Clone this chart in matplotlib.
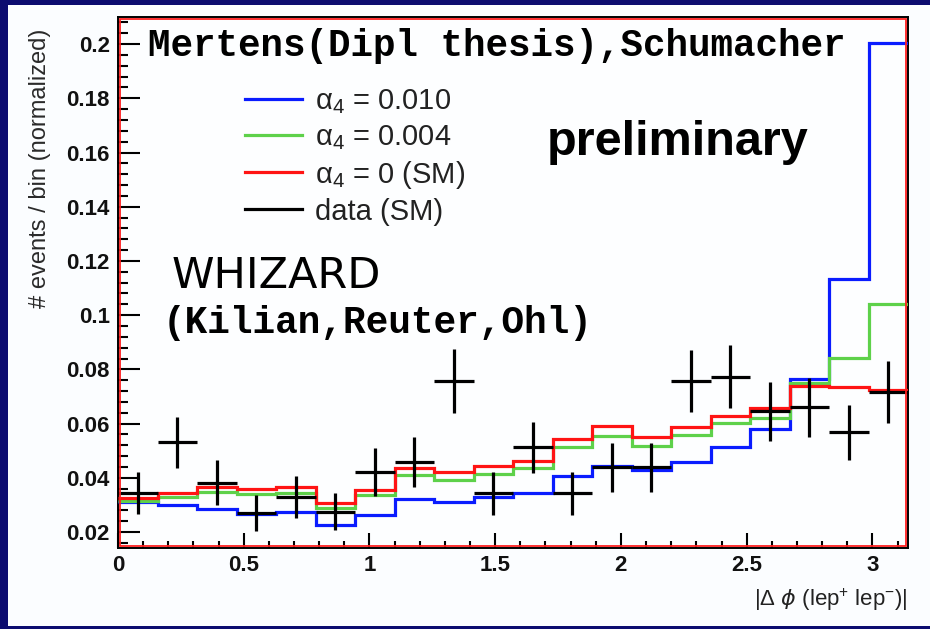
import numpy as np
import matplotlib
matplotlib.use("Agg")
import matplotlib.pyplot as plt
from matplotlib.lines import Line2D
from matplotlib.patches import Rectangle
from matplotlib.ticker import MultipleLocator, FormatStrFormatter

plt.rcParams['font.family'] = ['Liberation Sans', 'DejaVu Sans']
plt.rcParams['mathtext.fontset'] = 'custom'
plt.rcParams['mathtext.rm'] = 'Liberation Sans'

# 20 bins in |delta phi| from 0 to pi
n_bins = 20
edges = np.linspace(0, np.pi, n_bins + 1)
centers = 0.5 * (edges[:-1] + edges[1:])

# normalized distributions for the anomalous coupling alpha_4
alpha4_0010 = [0.031, 0.030, 0.0284, 0.0266, 0.0274, 0.0226, 0.0263, 0.0322, 0.0311, 0.0330,
               0.0343, 0.0407, 0.0443, 0.0430, 0.0459, 0.0512, 0.0581, 0.0763, 0.1133, 0.2003]
alpha4_0004 = [0.0314, 0.0330, 0.0349, 0.0340, 0.0343, 0.0288, 0.0337, 0.0409, 0.0392, 0.0413,
               0.0435, 0.0512, 0.0554, 0.0519, 0.0558, 0.0601, 0.0619, 0.0748, 0.0843, 0.1040]
alpha4_sm = [0.0325, 0.0345, 0.0367, 0.0357, 0.0367, 0.0308, 0.0355, 0.0436, 0.0420, 0.0443,
             0.0462, 0.0543, 0.0591, 0.0552, 0.0589, 0.0628, 0.0659, 0.0739, 0.0736, 0.0724]

# pseudo-data (SM) with statistical errors
data_sm = [0.0343, 0.0531, 0.0382, 0.0271, 0.0330, 0.0275, 0.0420, 0.0457, 0.0757, 0.0343,
           0.0512, 0.0343, 0.0439, 0.0439, 0.0757, 0.0773, 0.0646, 0.0660, 0.0568, 0.0717]
data_err = [0.0077, 0.0095, 0.0082, 0.0066, 0.0077, 0.0068, 0.0089, 0.0092, 0.0119, 0.0080,
            0.0095, 0.0080, 0.0090, 0.0091, 0.0116, 0.0117, 0.0109, 0.0110, 0.0101, 0.0114]

legend_labels = ['α$_\\mathregular{4}$ = 0.010', 'α$_\\mathregular{4}$ = 0.004',
                 'α$_\\mathregular{4}$ = 0 (SM)', 'data (SM)']

W, H = 930, 629
fig = plt.figure(figsize=(W / 100, H / 100), dpi=100, facecolor='#fbfdff')

# navy slide border
navy = '#0c0c70'
for rect in [(0, 0, 8 / W, 1), (0, 1 - 5 / H, 1, 5 / H), (0, 0, 1, 3 / H)]:
    fig.patches.append(Rectangle(rect[:2], rect[2], rect[3], transform=fig.transFigure,
                                 facecolor=navy, edgecolor='none', zorder=0))

ax = fig.add_axes([118 / W, 1 - 548 / H, 790 / W, 531 / H])
ax.set_facecolor('#fdfeff')
ax.set_xlim(0, np.pi)
ax.set_ylim(0.0141, 0.21)

lw = 2.3
c_blue, c_green, c_red = '#0a1cff', '#5ed14a', '#ff1414'
ax.stairs(alpha4_0010, edges, baseline=None, color=c_blue, lw=lw, zorder=3)
ax.stairs(alpha4_0004, edges, baseline=None, color=c_green, lw=lw, zorder=4)
ax.stairs(alpha4_sm, edges, baseline=None, color=c_red, lw=lw, zorder=5)
ax.errorbar(centers, data_sm, yerr=data_err, xerr=0.5 * np.diff(edges), fmt='none',
            ecolor='black', elinewidth=2.3, capsize=0, zorder=6)

handles = [Line2D([], [], color=c, lw=lw) for c in (c_blue, c_green, c_red, 'black')]
leg = ax.legend(handles, legend_labels, loc='upper left', bbox_to_anchor=(127 / 790, 1 - 70 / 531),
                frameon=False, fontsize=21, handlelength=1.95, handletextpad=0.45,
                labelspacing=0.24, borderpad=0, borderaxespad=0)
for t in leg.get_texts():
    t.set_color('#222222')

# axis styling
ax.xaxis.set_major_locator(MultipleLocator(0.5))
ax.xaxis.set_minor_locator(MultipleLocator(0.1))
ax.yaxis.set_major_locator(MultipleLocator(0.02))
ax.yaxis.set_minor_locator(MultipleLocator(0.004))
ax.xaxis.set_major_formatter(FormatStrFormatter('%g'))
ax.yaxis.set_major_formatter(FormatStrFormatter('%g'))
ax.tick_params(which='both', direction='in', top=False, right=False, width=1.5, color='black')
ax.tick_params(axis='y', which='major', length=15.5, pad=6)
ax.tick_params(axis='y', which='minor', length=7.5)
ax.tick_params(axis='x', which='major', length=11, pad=5)
ax.tick_params(axis='x', which='minor', length=5)
for lab in ax.get_xticklabels() + ax.get_yticklabels():
    lab.set_fontweight('bold')
    lab.set_fontsize(16)
    lab.set_color('#111111')

for s in ax.spines.values():
    s.set_color('black')
    s.set_linewidth(1.4)
# red frame just inside the axis lines
ix, iy = 2 / 790, 2 / 531
ax.add_patch(Rectangle((ix, iy), 1 - 2 * ix, 1 - 2 * iy, transform=ax.transAxes, fill=False,
                       edgecolor='#ff2020', lw=1.3, zorder=7, clip_on=False))

fig.text(40 / W, 1 - 29 / H, '# events / bin (normalized)', rotation=90, ha='center', va='top',
         fontsize=17, color='#2a2a2a')
fig.text(908 / W, 1 - 600 / H, '|Δ $\\phi$ (lep$^{+}$ lep$^{-}$)|', ha='right', va='center',
         fontsize=16, color='#222222')

# annotations
fig.text(148 / W, 1 - 56 / H, 'Mertens(Dipl thesis),Schumacher', ha='left', va='baseline',
         family='Liberation Mono', fontweight='bold', fontsize=27, color='black')
fig.text(163 / W, 1 - 333 / H, '(Kilian,Reuter,Ohl)', ha='left', va='baseline',
         family='Liberation Mono', fontweight='bold', fontsize=27.2, color='black')
fig.text(172 / W, 1 - 288 / H, 'WHIZARD', ha='left', va='baseline',
         family='DejaVu Sans', fontsize=31, color='black')
fig.text(547 / W, 1 - 155 / H, 'preliminary', ha='left', va='baseline',
         family='Liberation Sans', fontweight='bold', fontsize=35, color='black')

fig.savefig('out.png', dpi=100, facecolor=fig.get_facecolor())
